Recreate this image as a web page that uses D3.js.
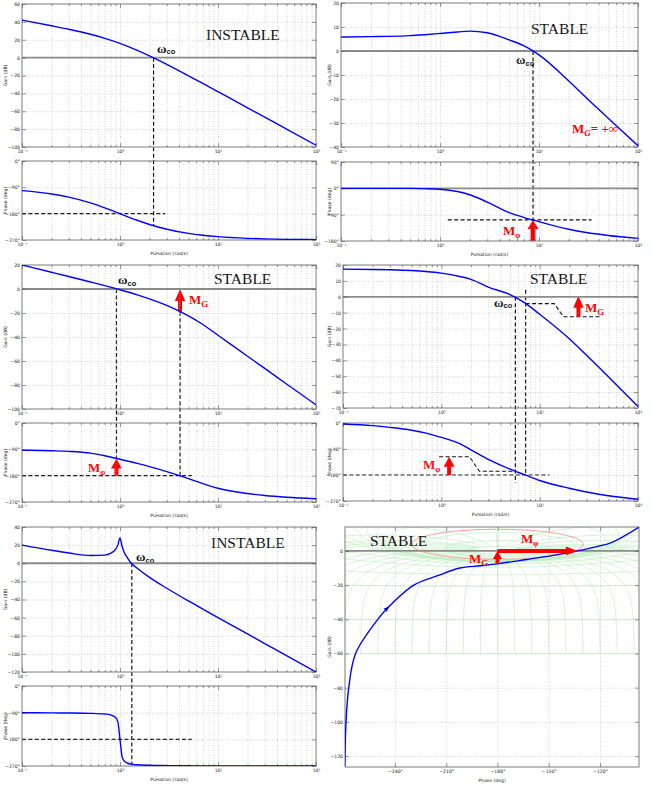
<!DOCTYPE html>
<html><head><meta charset="utf-8">
<script src="https://cdn.jsdelivr.net/npm/d3@7/dist/d3.min.js"></script>
<style>html,body{margin:0;padding:0;background:#fff;}svg{display:block;}</style>
</head><body>
<script>
// ================= DATA =================
const omega = [0.1,0.2,0.3,0.5,0.7,1,1.5,2,3,5,7,10,20,30,50,100];
// Panel 1 (top-left, INSTABLE)
const gain1  = [41.9,35.6,31.7,26.1,21.6,16.0,8.2,2.0,-7.5,-20.3,-28.9,-38.1,-56.1,-66.6,-79.9,-98.0];
const phase1 = [-101.4,-112.6,-123.4,-143.1,-160.0,-180,-202.6,-216.9,-233.1,-247.4,-253.7,-258.6,-264.3,-266.2,-267.7,-268.9];
// Panel 2 (top-right, STABLE, MG = +inf)
const gain2  = [5.8,6.0,6.1,6.4,6.8,7.3,7.9,8.3,7.6,4.6,2.2,-1.6,-12.5,-19.5,-28.0,-39.5];
const phase2 = [0,0,0,-0.3,-1,-3,-11,-22,-47,-83,-99,-114,-140,-151,-161,-171];
// Panel 3 (middle-left, STABLE)
const gain3  = [20.0,13.95,10.4,5.86,2.79,-0.62,-4.83,-8.2,-13.7,-22.4,-29.6,-38.5,-56.0,-66.2,-79.2,-96.5];
const phase3 = [-93,-95,-97,-103,-112,-124,-138,-149,-166,-190,-207,-223,-241,-248,-254,-259];
// Panel 4 (middle-right, STABLE)
const gain4  = [17.4,17.2,17.0,16.5,15.9,14.9,12.9,11.0,6.1,1.4,-3.7,-11.0,-26.4,-36.8,-50.3,-69.0];
const phase4 = [-3.5,-9,-15,-25,-35,-50,-70,-93,-126,-160,-179,-199,-226,-239,-252,-264];
// Panel 5 (bottom-left, INSTABLE, resonance)
const omega5 = [0.1,0.2,0.3,0.5,0.7,0.8,0.9,0.95,1,1.05,1.1,1.2,1.3,1.5,2,3,5,7,10,20,30,50,100];
const gain5  = [20.1,14.3,11.3,8.5,9.0,10.8,15.2,20.0,28.0,18.7,12.5,5.5,0.2,-5.5,-15.6,-27.6,-41.6,-50.5,-59.9,-78.0,-88.6,-101.9,-120.0];
const phase5 = [-90.3,-90.7,-91.1,-92.3,-94.7,-97.6,-105.9,-120.3,-180,-238.4,-252.6,-260.7,-263.6,-265.9,-267.7,-268.7,-269.3,-269.5,-269.7,-269.8,-269.9,-269.9,-270];
// Panel 6 (Nichols)
const nicholsPhase = [-269.3,-268.6,-267,-263,-250,-244.6,-229,-215,-202,-190,-180,-163,-144,-133,-122,-113,-97];
const nicholsGain  = [-126,-100,-80,-60,-40,-33.7,-20,-14.5,-10,-8.7,-7.6,-5,-2,0,2.5,5,14];
// Tick values
const gainTicks1 = [60,40,20,0,-20,-40,-60,-80,-100];
const gainTicks2 = [20,10,0,-10,-20,-30,-40];
const gainTicks3 = [20,0,-20,-40,-60,-80,-100];
const gainTicks4 = [20,10,0,-10,-20,-30,-40,-50,-60,-70];
const gainTicks5 = [40,20,0,-20,-40,-60,-80,-100,-120];
const phaseTicks = [0,-90,-180,-270];
const phaseTicks2 = [90,0,-90,-180];
const nicholsXTicks = [-240,-210,-180,-150,-120];
const nicholsYTicks = [0,-20,-40,-60,-80,-100,-120];
// Annotation values (crossover pulsations, levels)
const p1Wc = 2.2, p1PhiWc = -221, p1HEnd = 2.9;
const p2Wc = 8.7, p2PhiWc = -108, p2HStart = 1.2, p2HEnd = 34;
const p3Wc = 0.92, p3PhiWc = -121, p3W180 = 4.1, p3G180 = -19, p3HEnd = 5.4;
const p4Wc = 5.66, p4W180 = 7.2, p4G180 = -4.3, p4HEnd = 12.6;
const p4MgPath = [[7.2,-4.3],[14.1,-4.3],[17.4,-12.6],[42.4,-12.6]];
const p4MgArrow = [24.8,-12.6,0.6];
const p4MpPath = [[0.95,-117],[1.93,-117],[2.44,-167],[5.66,-167]];
const p4MpArrow = [1.2,-180,-117];
const p5Wc = 1.32, p5HEnd = 5.4;
const nichMarks = {phi180Gain:-7.6, pmPhase:-133, arrowAt:5};
const clMags = [-60,-40,-20,-12,-6,-3,-1,-0.5,0,0.25,0.5,1,3,6,12];
const clPhases = [-0.25,-45,-325,-359.75].concat(d3.range(-10,-351,-10));
const redContourDb = 2.3;

// ================= SETUP =================
const W = 652, H = 789;
const svg = d3.select("body").append("svg").attr("width",W).attr("height",H);
svg.append("rect").attr("width",W).attr("height",H).attr("fill","#fff");
const defs = svg.append("defs");
let clipN = 0;
function clip(x0,y0,x1,y1){const id="clip"+(clipN++);defs.append("clipPath").attr("id",id).append("rect").attr("x",x0).attr("y",y0).attr("width",x1-x0).attr("height",y1-y0);return `url(#${id})`;}

const SANS = "DejaVu Sans", SERIF = "Liberation Serif";
const FS = 4.6;
const SUP = {"-1":"\u207B\u00B9","0":"\u2070","1":"\u00B9","2":"\u00B2"};
const mfmt = v => (v<0?"\u2212":"")+Math.abs(v);
const decades = [0.1,1,10,100];
const minors = [];
[0.1,1,10].forEach(d=>{for(let k=2;k<=9;k++) minors.push(+(k*d).toPrecision(3));});
const BLUE = "#0000ff", RED = "#ff0000";

function styleTicks(s){ s.select(".domain").remove(); s.attr("font-family",SANS).attr("font-size",FS);
  s.selectAll(".tick line").attr("stroke","#555").attr("stroke-width",0.6); s.selectAll(".tick text").attr("fill","#222"); }
function styleGrid(s){ s.select(".domain").remove(); s.selectAll("line").attr("stroke","#b8b8b8").attr("stroke-width",0.6).attr("stroke-dasharray","1,1.5"); }

function axesBox(g, x, y, box, o){
  const [x0,y0,x1,y1] = box, w = x1-x0, h = y1-y0;
  const inside = (s,v,a,b)=> s(v)>a+0.5 && s(v)<b-0.5;
  const gx = o.xGrid.filter(v=>inside(x,v,x0,x1));
  const gy = o.yTicks.filter(v=>inside(y,v,y0,y1) && !(o.zero && v===0));
  g.append("g").attr("transform",`translate(0,${y1})`).call(d3.axisBottom(x).tickValues(gx).tickSize(-h).tickFormat("")).call(styleGrid);
  g.append("g").attr("transform",`translate(${x0},0)`).call(d3.axisLeft(y).tickValues(gy).tickSize(-w).tickFormat("")).call(styleGrid);
  if (o.zero && inside(y,0,y0,y1)) g.append("line").attr("x1",x0).attr("x2",x1).attr("y1",y(0)).attr("y2",y(0)).attr("stroke","#8a8a8a").attr("stroke-width",1.8);
  g.append("rect").attr("x",x0).attr("y",y0).attr("width",w).attr("height",h).attr("fill","none").attr("stroke","#7a7a7a").attr("stroke-width",1);
  g.append("g").attr("transform",`translate(0,${y1})`).call(d3.axisBottom(x).tickValues(o.xTicks).tickSizeInner(-4).tickSizeOuter(0).tickPadding(3.2).tickFormat(o.xFmt)).call(styleTicks);
  g.append("g").attr("transform",`translate(0,${y0})`).call(d3.axisTop(x).tickValues(o.xTicks).tickSizeInner(-4).tickSizeOuter(0).tickFormat("")).call(styleTicks);
  if (o.xMinor){
    g.append("g").attr("transform",`translate(0,${y1})`).call(d3.axisBottom(x).tickValues(o.xMinor).tickSizeInner(-2).tickSizeOuter(0).tickFormat("")).call(styleTicks);
    g.append("g").attr("transform",`translate(0,${y0})`).call(d3.axisTop(x).tickValues(o.xMinor).tickSizeInner(-2).tickSizeOuter(0).tickFormat("")).call(styleTicks);
  }
  g.append("g").attr("transform",`translate(${x0},0)`).call(d3.axisLeft(y).tickValues(o.yTicks).tickSizeInner(-4).tickSizeOuter(0).tickPadding(2).tickFormat(o.yFmt)).call(styleTicks);
  g.append("g").attr("transform",`translate(${x1},0)`).call(d3.axisRight(y).tickValues(o.yTicks).tickSizeInner(-4).tickSizeOuter(0).tickFormat("")).call(styleTicks);
  g.append("text").attr("transform",`translate(${o.labelX},${(y0+y1)/2}) rotate(-90)`).attr("text-anchor","middle").attr("dominant-baseline","central")
    .attr("font-family",SANS).attr("font-size",FS).attr("fill","#222").text(o.yLabel);
  if (o.xLabel) g.append("text").attr("x",(x0+x1)/2).attr("y",y1+13).attr("text-anchor","middle").attr("dominant-baseline","central")
    .attr("font-family",SANS).attr("font-size",FS).attr("fill","#222").text(o.xLabel);
}

const logFmt = d => "10"+SUP[String(Math.round(Math.log10(d)))];

function bode(o){
  const g = svg.append("g");
  const x = d3.scaleLog().domain([0.1,100]).range([o.x0,o.x1]);
  const yg = d3.scaleLinear().domain(o.gDom).range([o.gy1,o.gy0]);
  const yp = d3.scaleLinear().domain(o.pDom).range([o.py1,o.py0]);
  const common = {xTicks:decades, xMinor:minors, xGrid:minors.concat([1,10]), xFmt:logFmt, labelX:o.labelX, zero:true};
  axesBox(g, x, yg, [o.x0,o.gy0,o.x1,o.gy1], Object.assign({}, common, {yTicks:o.gTicks, yFmt:mfmt, yLabel:"Gain (dB)"}));
  axesBox(g, x, yp, [o.x0,o.py0,o.x1,o.py1], Object.assign({}, common, {yTicks:o.pTicks, yFmt:v=>mfmt(v)+"\u00B0", yLabel:"Phase (deg)", xLabel:"Pulsation (rad/s)"}));
  const lg = d3.line().x(d=>x(d[0])).y(d=>yg(d[1])).curve(d3.curveMonotoneX);
  const lp = d3.line().x(d=>x(d[0])).y(d=>yp(d[1])).curve(d3.curveMonotoneX);
  g.append("g").attr("clip-path",clip(o.x0,o.gy0,o.x1,o.gy1)).append("path").datum(d3.zip(o.w,o.gain)).attr("d",lg)
    .attr("fill","none").attr("stroke",BLUE).attr("stroke-width",1.4);
  g.append("g").attr("clip-path",clip(o.x0,o.py0,o.x1,o.py1)).append("path").datum(d3.zip(o.w,o.phase)).attr("d",lp)
    .attr("fill","none").attr("stroke",BLUE).attr("stroke-width",1.4);
  return {g,x,yg,yp};
}

const annot = svg.append("g");
function dashed(x1,y1,x2,y2){ annot.append("line").attr("x1",x1).attr("y1",y1).attr("x2",x2).attr("y2",y2)
  .attr("stroke","#111").attr("stroke-width",1.2).attr("stroke-dasharray","4,2.4"); }
function dashedPath(pts){ annot.append("path").attr("d",d3.line()(pts)).attr("fill","none").attr("stroke","#111").attr("stroke-width",1.1).attr("stroke-dasharray","4,2.4"); }
function arrow(x1,y1,x2,y2,sw,hw,hl){
  const dx=x2-x1, dy=y2-y1, L=Math.hypot(dx,dy), ux=dx/L, uy=dy/L, px=-uy, py=ux;
  const bx=x2-ux*hl, by=y2-uy*hl;
  const pts=[[x1+px*sw,y1+py*sw],[bx+px*sw,by+py*sw],[bx+px*hw,by+py*hw],[x2,y2],[bx-px*hw,by-py*hw],[bx-px*sw,by-py*sw],[x1-px*sw,y1-py*sw]];
  annot.append("path").attr("d","M"+pts.map(p=>p.join(",")).join("L")+"Z").attr("fill",RED);
}
function title(x,y,s){ annot.append("text").attr("x",x).attr("y",y).attr("font-family",SERIF).attr("font-size",15.5).attr("fill","#111").text(s); }
function omegaCo(x,y){ const t=annot.append("text").attr("x",x).attr("y",y).attr("font-family",SERIF).attr("font-weight","bold").attr("font-size",13).attr("fill","#111").text("\u03C9");
  t.append("tspan").attr("dy",1.6).attr("font-family","Liberation Sans").attr("font-size",7.5).text("co"); }
function mLabel(x,y,sub,opts){ opts=opts||{};
  const t=annot.append("text").attr("x",x).attr("y",y).attr("font-family",SERIF).attr("font-weight","bold").attr("font-size",13).attr("fill",RED).text("M");
  t.append("tspan").attr("dy",2.5).attr("font-size",sub==="G"?9:8).attr("font-style",opts.italic?"italic":null).text(sub);
  if (opts.after) t.append("tspan").attr("dy",-2.5).attr("font-size",13).attr("font-style","normal").text(opts.after); }

// ================= PANEL 1 =================
const P1 = bode({x0:22,x1:316,gy0:4,gy1:147,py0:161,py1:240,gDom:[-100,60],pDom:[-270,0],gTicks:gainTicks1,pTicks:phaseTicks,labelX:5,w:omega,gain:gain1,phase:phase1});
dashed(P1.x(p1Wc),P1.yg(0),P1.x(p1Wc),P1.yp(p1PhiWc));
dashed(P1.x(0.1),P1.yp(-180),P1.x(p1HEnd),P1.yp(-180));
title(206,39.5,"INSTABLE"); omegaCo(157,52.5);

// ================= PANEL 2 =================
const P2 = bode({x0:341,x1:638,gy0:3,gy1:147,py0:162,py1:241,gDom:[-40,20],pDom:[-180,90],gTicks:gainTicks2,pTicks:phaseTicks2,labelX:329,w:omega,gain:gain2,phase:phase2});
dashed(P2.x(p2Wc),P2.yg(0),P2.x(p2Wc),P2.yp(p2PhiWc));
dashed(P2.x(p2HStart),P2.yp(p2PhiWc),P2.x(p2HEnd),P2.yp(p2PhiWc));
arrow(P2.x(p2Wc),P2.yp(-180),P2.x(p2Wc),P2.yp(p2PhiWc),2.4,5.5,9);
title(531,34,"STABLE"); omegaCo(516,64.3);
mLabel(572,133,"G",{italic:true,after:"= +\u221E"});
mLabel(503,235,"\u03C6");

// ================= PANEL 3 =================
const P3 = bode({x0:22,x1:316,gy0:265,gy1:409,py0:423,py1:502,gDom:[-100,20],pDom:[-270,0],gTicks:gainTicks3,pTicks:phaseTicks,labelX:5,w:omega,gain:gain3,phase:phase3});
dashed(P3.x(p3Wc),P3.yg(0),P3.x(p3Wc),P3.yp(p3PhiWc));
dashed(P3.x(p3W180),P3.yg(p3G180),P3.x(p3W180),P3.yp(-180));
dashed(P3.x(0.1),P3.yp(-180),P3.x(p3HEnd),P3.yp(-180));
arrow(P3.x(p3W180),P3.yg(p3G180),P3.x(p3W180),P3.yg(0),2,5.2,12);
arrow(P3.x(p3Wc),P3.yp(-180),P3.x(p3Wc),P3.yp(p3PhiWc),2,5.4,10);
title(214,284,"STABLE"); omegaCo(118,284.3);
mLabel(189,304,"G"); mLabel(88,472,"\u03C6");

// ================= PANEL 4 =================
const P4 = bode({x0:343,x1:638,gy0:265,gy1:408,py0:423,py1:501,gDom:[-70,20],pDom:[-270,0],gTicks:gainTicks4,pTicks:phaseTicks,labelX:329,w:omega,gain:gain4,phase:phase4});
dashed(P4.x(p4Wc),P4.yg(0),P4.x(p4Wc),P4.yp(-208));
dashed(P4.x(p4W180),P4.yg(4.4),P4.x(p4W180),P4.yp(-180));
dashed(P4.x(0.1),P4.yp(-180),P4.x(p4HEnd),P4.yp(-180));
dashedPath(p4MgPath.map(d=>[P4.x(d[0]),P4.yg(d[1])]));
dashedPath(p4MpPath.map(d=>[P4.x(d[0]),P4.yp(d[1])]));
arrow(P4.x(p4MgArrow[0]),P4.yg(p4MgArrow[1]),P4.x(p4MgArrow[0]),P4.yg(p4MgArrow[2]),2,5.2,12);
arrow(P4.x(p4MpArrow[0]),P4.yp(p4MpArrow[1]),P4.x(p4MpArrow[0]),P4.yp(p4MpArrow[2]),2,5.4,10);
title(530,284,"STABLE"); omegaCo(494,306.7);
mLabel(585,312,"G"); mLabel(423,469,"\u03C6");

// ================= PANEL 5 =================
const P5 = bode({x0:22,x1:316,gy0:527,gy1:672,py0:686,py1:766,gDom:[-120,40],pDom:[-270,0],gTicks:gainTicks5,pTicks:phaseTicks,labelX:5,w:omega5,gain:gain5,phase:phase5});
dashed(P5.x(p5Wc),P5.yg(0),P5.x(p5Wc),P5.yp(-268));
dashed(P5.x(0.1),P5.yp(-180),P5.x(p5HEnd),P5.yp(-180));
title(211,548,"INSTABLE"); omegaCo(136,561);

// ================= PANEL 6 : NICHOLS =================
const nb = [345,527,639,767];
const nx = d3.scaleLinear().domain([-269.2,-97.2]).range([nb[0],nb[2]]);
const ny = d3.scaleLinear().domain([-126.4,14]).range([nb[3],nb[1]]);
const g6 = svg.insert("g", () => annot.node());
function cl2ol(M, thDeg){ const th=thDeg*Math.PI/180, tr=M*Math.cos(th), ti=M*Math.sin(th), dr=1-tr, di=-ti, den=dr*dr+di*di;
  const lr=(tr*dr+ti*di)/den, li=(ti*dr-tr*di)/den; let ph=(Math.atan2(li,lr)*180/Math.PI)%360; if(ph>0) ph-=360;
  return [ph, 20*Math.log10(Math.hypot(lr,li))]; }
function withBreaks(list){ const out=[]; let prev=null; for(const p of list){ if(!isFinite(p[1])){out.push(null);prev=null;continue;}
  const q=[p[0],Math.max(-300,Math.min(300,p[1]))]; if(prev && Math.abs(q[0]-prev[0])>180) out.push(null); out.push(q); prev=q; } return out; }
const nLine = d3.line().defined(d=>d!==null).x(d=>nx(d[0])).y(d=>ny(d[1]));
const gridG = g6.append("g").attr("clip-path",clip(nb[0],nb[1],nb[2],nb[3]));
const thetas = d3.range(-359.75,-0.2,0.25);
const mDbs = d3.range(-60,12.001,0.05);
const GREEN = "#b6ebb6";
clMags.forEach(mdb=>{ const M=Math.pow(10,mdb/20); const pts=withBreaks(thetas.map(t=>cl2ol(M,t)));
  gridG.append("path").attr("d",nLine(pts)).attr("fill","none").attr("stroke",GREEN).attr("stroke-width",0.6); });
clPhases.forEach(th=>{ const pts=withBreaks(mDbs.map(db=>cl2ol(Math.pow(10,db/20),th)));
  gridG.append("path").attr("d",nLine(pts)).attr("fill","none").attr("stroke",GREEN).attr("stroke-width",0.6); });
axesBox(g6, nx, ny, nb, {xTicks:nicholsXTicks, xGrid:nicholsXTicks, xFmt:v=>mfmt(v)+"\u00B0", yTicks:nicholsYTicks, yFmt:mfmt,
  labelX:329, yLabel:"Gain (dB)", xLabel:"Phase (deg)", zero:true});
const curveG = g6.append("g").attr("clip-path",clip(nb[0],nb[1],nb[2],nb[3]));
{ const M=Math.pow(10,redContourDb/20); const pts=withBreaks(thetas.map(t=>cl2ol(M,t)));
  curveG.append("path").attr("d",nLine(pts)).attr("fill","none").attr("stroke","#f08888").attr("stroke-width",0.9); }
const nichData = d3.zip(nicholsPhase,nicholsGain);
curveG.append("path").datum(nichData).attr("d",d3.line().x(d=>nx(d[0])).y(d=>ny(d[1])).curve(d3.curveCatmullRom.alpha(0.5)))
  .attr("fill","none").attr("stroke",BLUE).attr("stroke-width",1.4);
{ const a=nichData[nichMarks.arrowAt], b=nichData[nichMarks.arrowAt+1];
  const ang=Math.atan2(ny(b[1])-ny(a[1]), nx(b[0])-nx(a[0]))*180/Math.PI;
  curveG.append("path").attr("d","M3,0L-2.5,-2.2L-2.5,2.2Z").attr("fill","#0000cc")
    .attr("transform",`translate(${nx(a[0])},${ny(a[1])}) rotate(${ang})`); }
arrow(nx(-180),ny(nichMarks.phi180Gain),nx(-180),ny(0),2,4.6,8);
arrow(nx(-180),ny(0),nx(nichMarks.pmPhase),ny(0),2,4.4,12);
title(370,546,"STABLE");
mLabel(469,563,"G"); mLabel(521,543,"\u03C6");
</script>
</body></html>
